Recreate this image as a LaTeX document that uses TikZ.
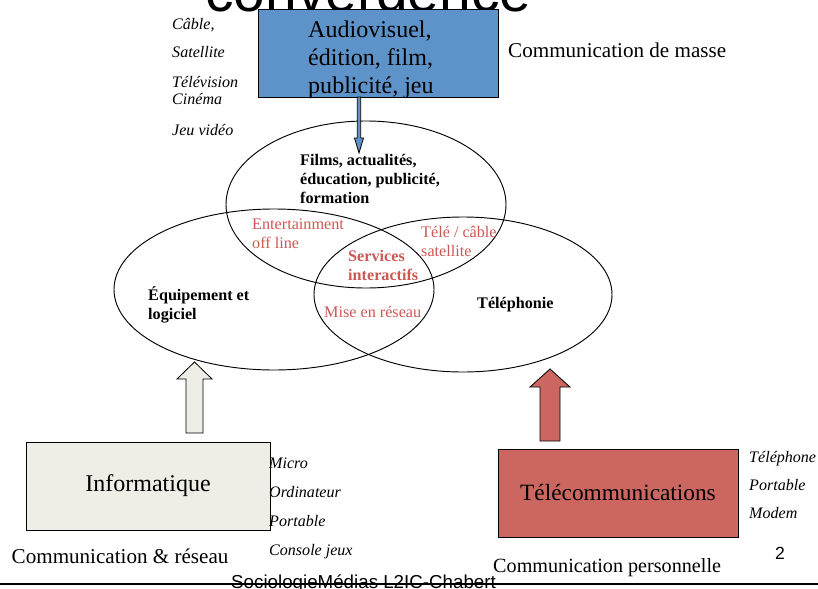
\documentclass[tikz,border=0pt]{standalone}
\usepackage{fontspec}
\setmainfont{Liberation Serif}
\setsansfont{Liberation Sans}
\usepackage{xcolor}
\usepackage{tikz}
\usetikzlibrary{shapes.geometric, positioning}

\definecolor{mediablue}{RGB}{94,147,201}
\definecolor{infobeige}{RGB}{238,238,230}
\definecolor{telecred}{RGB}{204,102,96}
\definecolor{zonered}{RGB}{204,88,84}

\newcommand{\pxu}{0.03cm}

\begin{document}
\begin{tikzpicture}[
    x=0.03cm, y=-0.03cm,
    sectorbox/.style={draw, rectangle, line width=0.8pt, inner sep=0pt, align=center},
    zone/.style={draw, ellipse, line width=0.8pt, inner sep=0pt},
    venntxt/.style={anchor=base west, align=left, inner sep=0pt,
      font=\fontsize{13.8}{15.8}\selectfont},
    redtxt/.style={venntxt, text=zonered},
    itemtxt/.style={anchor=base west, align=left, inner sep=0pt,
      font=\itshape\fontsize{13.7}{14.5}\selectfont},
    captxt/.style={anchor=base west, inner sep=0pt, font=\fontsize{18}{20}\selectfont},
    blockarrow/.style={line width=0.7pt, line join=miter}
]
\useasboundingbox (0,0) rectangle (818,588);
\clip (0,0) rectangle (818,588);

% title, cut at the top
\node[anchor=base west, inner sep=0pt, font=\sffamily\fontsize{48.6}{50}\selectfont] (title) at (205,11) {convergence};

% the three sectors
\node[sectorbox, fill=mediablue, minimum width=240*\pxu, minimum height=88*\pxu] (media) at (378,53) {};
\node[anchor=base west, align=left, inner sep=0pt, font=\fontsize{20.5}{23.5}\selectfont] (mediatxt) at (308,93)
  {Audiovisuel,\\édition, film,\\publicité, jeu};
\node[sectorbox, fill=infobeige, minimum width=244*\pxu, minimum height=88*\pxu,
  font=\fontsize{20.5}{23}\selectfont] (info) at (148,486) {Informatique};
\node[sectorbox, fill=telecred, minimum width=240*\pxu, minimum height=88*\pxu,
  font=\fontsize{19.9}{23}\selectfont] (telecom) at (618,493) {Télécommunications};

% captions
\node[captxt] (masse) at (508,57) {Communication de masse};
\node[captxt] (reseau) at (11.5,563) {Communication \& réseau};
\node[captxt, font=\fontsize{17.2}{20}\selectfont] (perso) at (493,572) {Communication personnelle};

% supports
\node[itemtxt] (cable) at (172,29) {Câble,};
\node[itemtxt] (sat) at (172,57) {Satellite};
\node[itemtxt] (tv) at (172,104) {Télévision\\Cinéma};
\node[itemtxt] (jeu) at (172,135) {Jeu vidéo};
\node[itemtxt, font=\itshape\fontsize{13.7}{24.5}\selectfont] (infoitems) at (269,555)
  {Micro\\Ordinateur\\Portable\\Console jeux};
\node[itemtxt, font=\itshape\fontsize{13.7}{23.9}\selectfont] (telitems) at (749,518)
  {Téléphone\\Portable\\Modem};

% convergence zones
\node[zone, minimum width=280*\pxu, minimum height=167*\pxu] (contenu) at (366,204.5) {};
\node[zone, minimum width=320*\pxu, minimum height=161*\pxu] (equip) at (274,289.5) {};
\node[zone, minimum width=298*\pxu, minimum height=155*\pxu] (tel) at (463,294.5) {};

\node[venntxt, font=\bfseries\fontsize{13.8}{15.8}\selectfont] (films) at (300,203)
  {Films, actualités,\\éducation, publicité,\\formation};
\node[redtxt] (offline) at (252,248) {Entertainment\\off line};
\node[redtxt] (telecable) at (421,256) {Télé / câble\\satellite};
\node[redtxt, font=\bfseries\fontsize{13.8}{15.8}\selectfont] (services) at (348,280) {Services\\interactifs};
\node[redtxt] (miseres) at (324,317) {Mise en réseau};
\node[venntxt, font=\bfseries\fontsize{13.8}{15.8}\selectfont] (equiptxt) at (148,319) {Équipement et\\logiciel};
\node[venntxt, font=\bfseries\fontsize{13.8}{15.8}\selectfont] (teltxt) at (477,308) {Téléphonie};

% block arrows
\draw[blockarrow, fill=mediablue] (357.3,97) -- (357.3,138) -- (354.5,138) -- (359,153)
  -- (363.5,138) -- (360.7,138) -- (360.7,97) -- cycle;
\draw[blockarrow, fill=infobeige] (186,433) -- (186,379) -- (177,379) -- (194.5,362)
  -- (212,379) -- (203,379) -- (203,433) -- cycle;
\draw[blockarrow, fill=telecred] (540,441) -- (540,387) -- (530,387) -- (550,369)
  -- (570,387) -- (560,387) -- (560,441) -- cycle;

% slide footer
\node[anchor=base west, inner sep=0pt, font=\sffamily\fontsize{15}{17}\selectfont] (page) at (775,559) {2};
\node[anchor=base west, inner sep=0pt, font=\sffamily\fontsize{16}{18}\selectfont] (footer) at (231,588.4)
  {SociologieMédias L2IC-Chabert};
\draw[line width=1.4pt] (0,584) -- (818,584);
\end{tikzpicture}
\end{document}
